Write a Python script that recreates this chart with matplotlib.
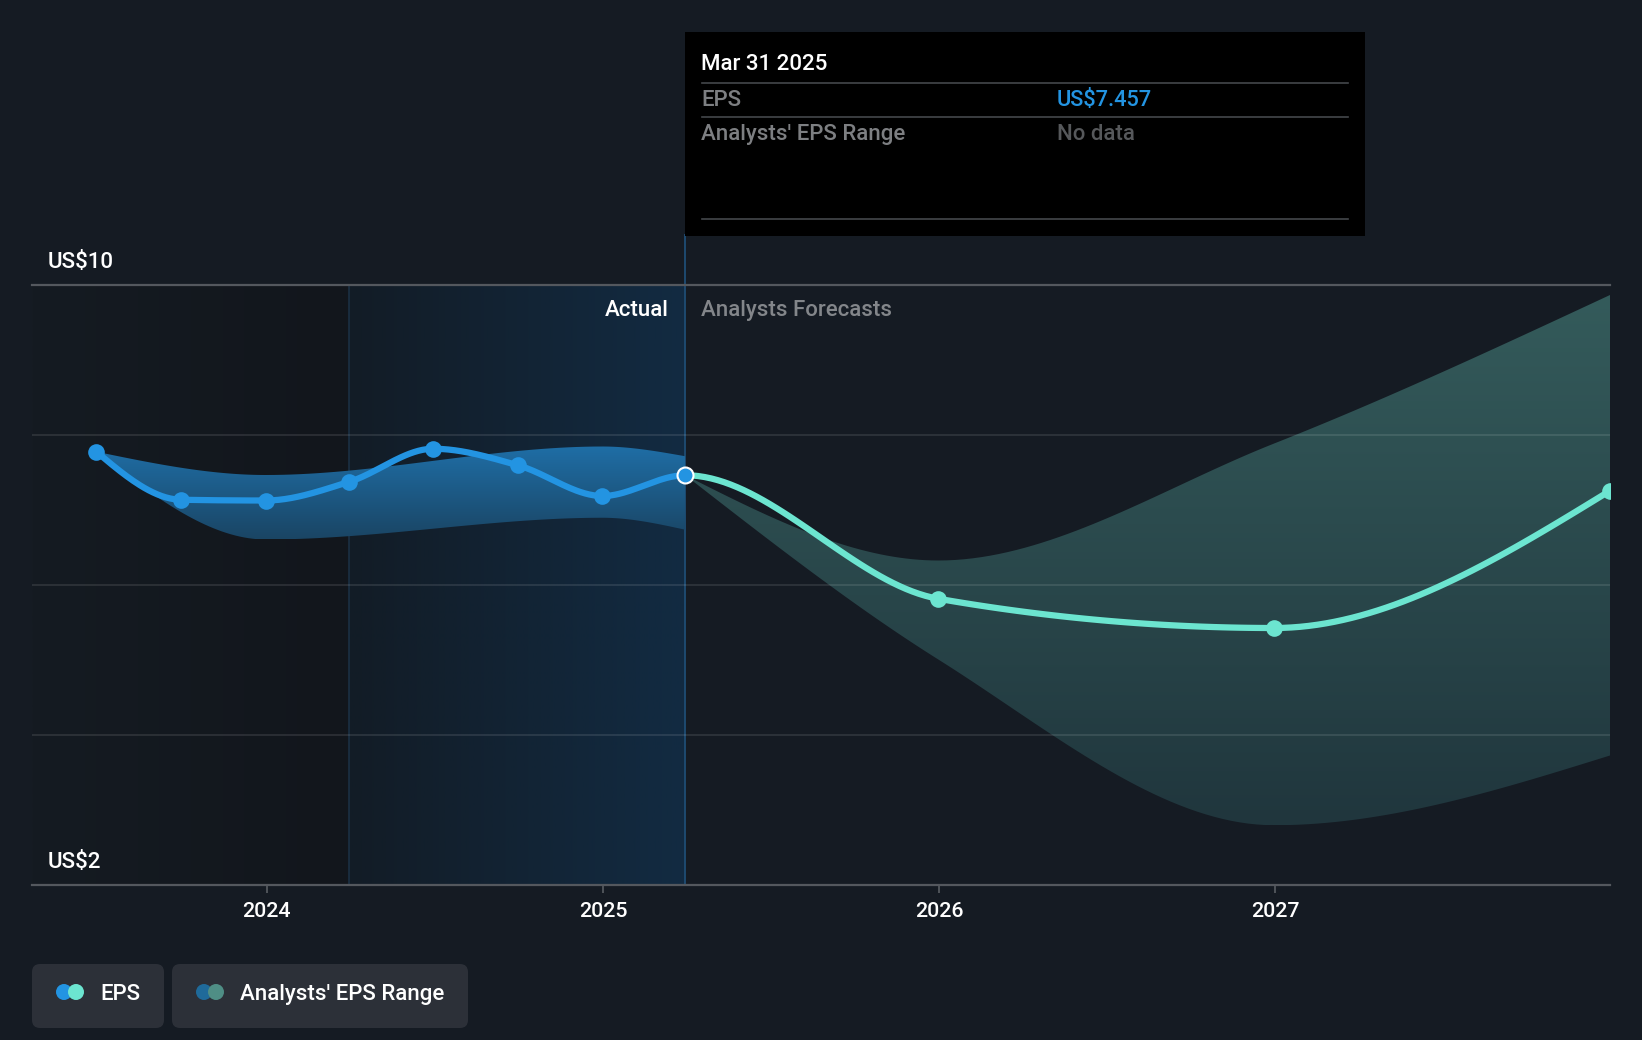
import numpy as np
import matplotlib
matplotlib.use("Agg")
import matplotlib.pyplot as plt
import matplotlib.dates as mdates
from matplotlib.colors import LinearSegmentedColormap
from matplotlib.patches import FancyBboxPatch, Rectangle, Circle

plt.rcParams["font.family"] = ["Roboto", "DejaVu Sans"]

W, H = 1642, 1040
BG = "#151b23"
BLUE = "#2394e2"
TEAL = "#6ce5d0"

eps_dates = ["2023-06-30", "2023-09-30", "2023-12-31", "2024-03-31", "2024-06-30",
             "2024-09-30", "2024-12-31", "2025-03-31"]
eps_values = [7.77, 7.13, 7.12, 7.37, 7.81, 7.59, 7.18, 7.457]

forecast_dates = ["2025-12-31", "2026-12-31", "2027-12-31"]
forecast_values = [5.81, 5.42, 7.25]

past_range_dates = ["2023-06-30", "2023-12-31", "2024-12-31", "2025-03-31"]
past_range_high = [7.77, 7.46, 7.84, 7.71]
past_range_low = [7.77, 6.60, 6.89, 6.73]

future_range_dates = ["2025-03-31", "2025-12-31", "2026-12-31", "2027-12-31"]
future_range_high = [7.457, 6.32, 7.88, 9.86]
future_range_low = [7.457, 5.00, 2.79, 3.72]

grid_values = [2, 4, 6, 8, 10]
year_labels = ["2024", "2025", "2026", "2027"]
tick_dates = ["2024-01-01", "2025-01-01", "2026-01-01", "2027-01-01"]

STEPS = 40


def to_num(dates):
    return mdates.datestr2num(dates)


def smooth(x, y, n=STEPS):
    # monotone cubic through the points, same idea as d3 curveMonotoneX
    x = np.asarray(x, dtype=float)
    y = np.asarray(y, dtype=float)
    h = np.diff(x)
    s = np.diff(y) / h
    m = np.zeros(len(x))
    for i in range(1, len(x) - 1):
        if s[i - 1] * s[i] > 0:
            p = (s[i - 1] * h[i] + s[i] * h[i - 1]) / (h[i - 1] + h[i])
            m[i] = np.sign(s[i]) * min(abs(s[i - 1]), abs(s[i]), 0.5 * abs(p)) * 2
    m[0] = (3 * s[0] - m[1]) / 2
    m[-1] = (3 * s[-1] - m[-2]) / 2
    xs, ys = [], []
    for i in range(len(h)):
        t = np.linspace(0, 1, n)
        a = (2 * t**3 - 3 * t**2 + 1) * y[i] + (t**3 - 2 * t**2 + t) * h[i] * m[i]
        b = (-2 * t**3 + 3 * t**2) * y[i + 1] + (t**3 - t**2) * h[i] * m[i + 1]
        xs.append(x[i] + t * h[i])
        ys.append(a + b)
    return np.concatenate(xs), np.concatenate(ys)


def gradient_band(ax, dates, high, low, top_color, bottom_color):
    xh, yh = smooth(to_num(dates), high)
    xl, yl = smooth(to_num(dates), low)
    poly = ax.fill(np.r_[xh, xl[::-1]], np.r_[yh, yl[::-1]], color="none", lw=0)[0]
    cmap = LinearSegmentedColormap.from_list("band", [bottom_color, top_color])
    img = ax.imshow(np.linspace(1, 0, 256).reshape(-1, 1), cmap=cmap, aspect="auto", zorder=3,
                    extent=[xh[0], xh[-1], yl.min(), yh.max()], interpolation="bilinear")
    img.set_clip_path(poly)


def hgrad(ax, x0, x1, c0, c1):
    cmap = LinearSegmentedColormap.from_list("shade", [c0, c1])
    ax.imshow(np.linspace(0, 1, 256).reshape(1, -1), cmap=cmap, aspect="auto", zorder=0,
              extent=[x0, x1, 2, 10])


fig = plt.figure(figsize=(W / 100, H / 100), dpi=100, facecolor=BG)
ax = fig.add_axes([32 / W, 1 - 884.5 / H, (1610 - 32) / W, 600 / H], facecolor=BG)

start = mdates.datestr2num("2023-04-21")
end = mdates.datestr2num("2027-12-31")
split = mdates.datestr2num("2024-03-31")
now = mdates.datestr2num("2025-03-31")

hgrad(ax, start, split, "#151b22", "#12161c")
hgrad(ax, split, now, "#121c26", "#122b42")

gradient_band(ax, past_range_dates, past_range_high, past_range_low, "#1f6ea6", "#1a4564")
gradient_band(ax, future_range_dates, future_range_high, future_range_low, "#345b5b", "#20363d")

ax.set_xlim(start, end)
ax.set_ylim(2, 10)

for v in grid_values[1:-1]:
    ax.axhline(v, color="#ffffff", alpha=0.11, lw=1.3, zorder=4)
ax.axhline(10, color="#54585e", lw=1.6, zorder=4, clip_on=False)
ax.axvline(split, color="#1b3043", lw=1.2, zorder=2)
ax.axvline(now, ymin=0, ymax=(885 - 236) / 600, color="#1e4a70", lw=1.4, zorder=2, clip_on=False)

# the curve runs through actual and forecast as one line, only the colour changes
x, y = smooth(to_num(eps_dates + forecast_dates), eps_values + forecast_values)
cut = (len(eps_dates) - 1) * STEPS
ax.plot(x[:cut], y[:cut], color=BLUE, lw=4.5, zorder=5, solid_capstyle="round")
ax.plot(x[cut:], y[cut:], color=TEAL, lw=4.5, zorder=5)
ax.plot(to_num(eps_dates), eps_values, "o", color=BLUE, ms=12, mew=0, zorder=6)
ax.plot(to_num(forecast_dates), forecast_values, "o", color=TEAL, ms=12, mew=0, zorder=6)
ax.plot(to_num(eps_dates[-1:]), eps_values[-1:], "o", color=BLUE, ms=11.5, mec="white",
        mew=1.5, zorder=7)

ax.set_yticks([])
ax.set_xticks(to_num(tick_dates))
ax.set_xticklabels(year_labels, fontsize=15.4, color="white", fontweight="medium")
ax.tick_params(axis="x", length=5.8, width=1.3, color="#54585e", pad=7)
for side in ["top", "left", "right"]:
    ax.spines[side].set_visible(False)
ax.spines["bottom"].set_color("#54585e")
ax.spines["bottom"].set_linewidth(1.6)

# overlay in pixel coordinates for tooltip, legend and labels
ov = fig.add_axes([0, 0, 1, 1], facecolor="none", zorder=10)
ov.set_xlim(0, W)
ov.set_ylim(H, 0)
ov.axis("off")


def label(px, py, s, color="white", **kw):
    ov.text(px, py, s, color=color, fontsize=kw.pop("fontsize", 16.0), fontweight="medium",
            va="center_baseline", **kw)


label(48, 260, "US$10")
label(48, 860, "US$2")
label(669, 308, "Actual", ha="right")
label(701, 308, "Analysts Forecasts", color="#83868a")

ov.add_patch(Rectangle((685, 32), 680, 204, color="black", lw=0))
for py in [82.5, 117, 219]:
    ov.plot([701.5, 1348], [py, py], color="#44474b", lw=1.2)
label(701, 62, "Mar 31 2025")
label(701, 98, "EPS", color="#7d7f82")
label(1057, 98, "US$7.457", color=BLUE, fontsize=15.7)
label(701, 132, "Analysts' EPS Range", color="#7d7f82")
label(1057, 132, "No data", color="#56585b")

for px, wd in [(32, 132), (172, 296)]:
    ov.add_patch(FancyBboxPatch((px, 964), wd, 64, boxstyle="round,pad=0,rounding_size=8",
                                mutation_aspect=1, lw=0, fc="#2c3038"))
for cx, c in [(64, BLUE), (76, TEAL), (204, "#1f6a9a"), (216, "#4f8e85")]:
    ov.add_patch(Circle((cx, 992), 8, fc=c, lw=0))
label(100, 992, "EPS")
label(240, 992, "Analysts' EPS Range")

fig.savefig("out.png", dpi=100, facecolor=BG)
